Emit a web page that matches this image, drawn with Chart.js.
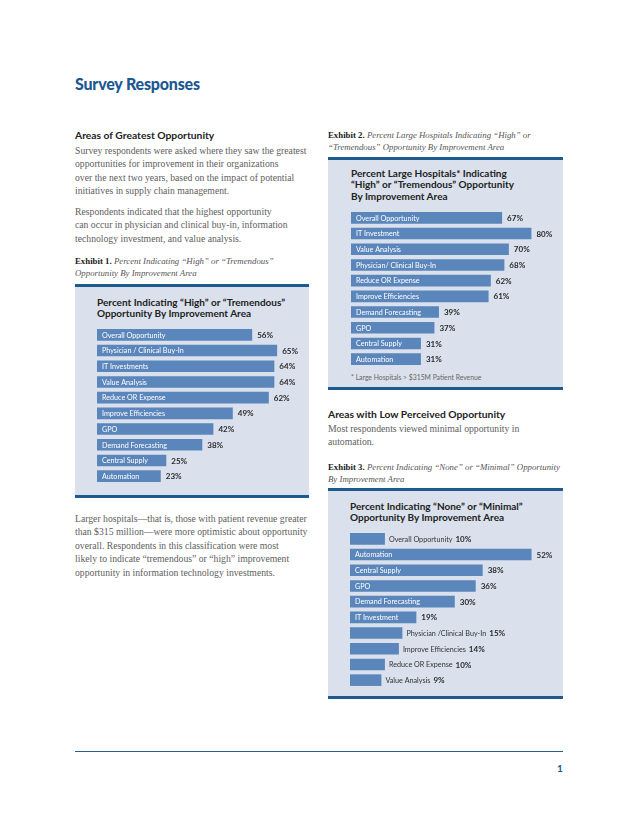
<!DOCTYPE html>
<html>
<head>
<meta charset="utf-8">
<script src="https://cdn.jsdelivr.net/npm/chart.js@4.4.1/dist/chart.umd.min.js"></script>
<style>
  html, body { margin: 0; padding: 0; background: #fff; }
  body { width: 638px; height: 826px; position: relative; overflow: hidden; }
  .abs { position: absolute; white-space: nowrap; }
  .title { font-family: Lato, sans-serif; font-weight: 900; font-size: 16px; color: #1d5793; letter-spacing: -0.2px; }
  .head { font-family: Lato, sans-serif; font-weight: 700; font-size: 10.3px; color: #222; }
  .body { font-family: "Liberation Serif", serif; font-size: 9.7px; color: #5e5e5e; line-height: 13.4px; }
  .cap { font-family: "Liberation Serif", serif; font-size: 8.8px; color: #444; line-height: 11.5px; }
  .cap b { color: #222; }
  .cap i { color: #555; }
  .panel { position: absolute; background: #dae1ec; border-top: 3px solid #1d5a8e; border-bottom: 3px solid #1d5a8e; box-sizing: border-box; }
  .ptitle { font-family: Lato, sans-serif; font-weight: 700; font-size: 10px; color: #222; line-height: 11.3px; }
  .foot { font-family: Lato, sans-serif; font-size: 6.8px; color: #666; }
  canvas { position: absolute; }
</style>
</head>
<body>

<div class="abs title" style="left:75px; top:74px;">Survey Responses</div>

<!-- left column -->
<div class="abs head" style="left:75px; top:129px;">Areas of Greatest Opportunity</div>
<div class="abs body" style="left:75px; top:144px;">Survey respondents were asked where they saw the greatest<br>opportunities for improvement in their organizations<br>over the next two years, based on the impact of potential<br>initiatives in supply chain management.</div>
<div class="abs body" style="left:75px; top:205px;">Respondents indicated that the highest opportunity<br>can occur in physician and clinical buy-in, information<br>technology investment, and value analysis.</div>
<div class="abs cap" style="left:75px; top:256px;"><b>Exhibit 1.</b> <i>Percent Indicating “High” or “Tremendous”<br>Opportunity By Improvement Area</i></div>

<div class="panel" style="left:75px; top:284px; width:234px; height:214px;"></div>
<div class="abs ptitle" style="left:97px; top:297px;">Percent Indicating “High” or “Tremendous”<br>Opportunity By Improvement Area</div>
<canvas id="chart1" width="212" height="157" style="left:97px; top:327px;"></canvas>

<div class="abs body" style="left:75px; top:512px;">Larger hospitals—that is, those with patient revenue greater<br>than $315 million—were more optimistic about opportunity<br>overall. Respondents in this classification were most<br>likely to indicate “tremendous” or “high” improvement<br>opportunity in information technology investments.</div>

<!-- right column -->
<div class="abs cap" style="left:328px; top:130px;"><b>Exhibit 2.</b> <i>Percent Large Hospitals Indicating “High” or<br>“Tremendous” Opportunity By Improvement Area</i></div>

<div class="panel" style="left:328px; top:157px; width:235px; height:233px;"></div>
<div class="abs ptitle" style="left:351px; top:168px;">Percent Large Hospitals* Indicating<br>“High” or “Tremendous” Opportunity<br>By Improvement Area</div>
<canvas id="chart2" width="212" height="157" style="left:351px; top:210px;"></canvas>
<div class="abs foot" style="left:351px; top:373px;">* Large Hospitals &gt; $315M Patient Revenue</div>

<div class="abs head" style="left:328px; top:408px;">Areas with Low Perceived Opportunity</div>
<div class="abs body" style="left:328px; top:422px;">Most respondents viewed minimal opportunity in<br>automation.</div>
<div class="abs cap" style="left:328px; top:462px;"><b>Exhibit 3.</b> <i>Percent Indicating “None” or “Minimal” Opportunity<br>By Improvement Area</i></div>

<div class="panel" style="left:328px; top:488px; width:235px; height:211px;"></div>
<div class="abs ptitle" style="left:350px; top:501px;">Percent Indicating “None” or “Minimal”<br>Opportunity By Improvement Area</div>
<canvas id="chart3" width="213" height="157" style="left:350px; top:531px;"></canvas>

<!-- footer -->
<div class="abs" style="left:75px; top:751px; width:488px; height:0; border-top:1.5px solid #2a5f93;"></div>
<div class="abs" style="left:557px; top:762px; font-family:Lato, sans-serif; font-weight:700; font-size:10px; color:#1d5793;">1</div>

<script>
// Exhibit 1 - all respondents, "High" or "Tremendous"
const areas1 = ["Overall Opportunity", "Physician / Clinical Buy-In", "IT Investments", "Value Analysis",
    "Reduce OR Expense", "Improve Efficiencies", "GPO", "Demand Forecasting", "Central Supply", "Automation"];
const values1 = [56, 65, 64, 64, 62, 49, 42, 38, 25, 23];

// Exhibit 2 - large hospitals, "High" or "Tremendous"
const areas2 = ["Overall Opportunity", "IT Investment", "Value Analysis", "Physician/ Clinical Buy-In",
    "Reduce OR Expense", "Improve Efficiencies", "Demand Forecasting", "GPO", "Central Supply", "Automation"];
const values2 = [67, 80, 70, 68, 62, 61, 39, 37, 31, 31];

// Exhibit 3 - "None" or "Minimal"
const areas3 = ["Overall Opportunity", "Automation", "Central Supply", "GPO", "Demand Forecasting",
    "IT Investment", "Physician /Clinical Buy-In", "Improve Efficiencies", "Reduce OR Expense", "Value Analysis"];
const values3 = [10, 52, 38, 36, 30, 19, 15, 14, 10, 9];

const BAR_COLOR = "#5a86bc";
const NAME_FONT = "7.2px Lato, sans-serif";
const VALUE_FONT = "bold 8px Lato, sans-serif";

// ✅ Writes the area name inside the bar (or after it when it does not fit) and the percent after the bar
const barLabelPlugin = {
    id: "barLabels",
    afterDatasetsDraw(chart) {
        const ctx = chart.ctx;
        const meta = chart.getDatasetMeta(0);
        meta.data.forEach((bar, i) => {
            const name = chart.data.labels[i];
            const value = chart.data.datasets[0].data[i] + "%";
            ctx.save();
            ctx.textBaseline = "middle";
            ctx.font = NAME_FONT;
            const nameWidth = ctx.measureText(name).width;
            const barWidth = bar.x - bar.base;
            if (nameWidth + 10 < barWidth) {
                ctx.fillStyle = "#ffffff";
                ctx.fillText(name, bar.base + 5, bar.y + 0.5);
                ctx.font = VALUE_FONT;
                ctx.fillStyle = "#2a2a2a";
                ctx.fillText(value, bar.x + 5, bar.y + 0.5);
            } else {
                ctx.fillStyle = "#333333";
                ctx.fillText(name, bar.x + 4, bar.y + 0.5);
                ctx.font = VALUE_FONT;
                ctx.fillStyle = "#2a2a2a";
                ctx.fillText(value, bar.x + 4 + nameWidth + 3, bar.y + 0.5);
            }
            ctx.restore();
        });
    }
};

function makeChart(id, areas, values, xMax) {
    const canvas = document.getElementById(id);
    if (!canvas) {
        console.error("❌ Canvas not found:", id);
        return;
    }
    new Chart(canvas, {
        type: "bar",
        data: {
            labels: areas,
            datasets: [{
                data: values,
                backgroundColor: BAR_COLOR,
                borderWidth: 0,
                barPercentage: 0.74,
                categoryPercentage: 1
            }]
        },
        options: {
            indexAxis: "y",
            responsive: false,
            animation: false,
            layout: { padding: 0 },
            plugins: { legend: { display: false }, tooltip: { enabled: false } },
            scales: {
                x: { display: false, min: 0, max: xMax },
                y: { display: false }
            }
        },
        plugins: [barLabelPlugin]
    });
}

makeChart("chart1", areas1, values1, 76.5);
makeChart("chart2", areas2, values2, 94);
makeChart("chart3", areas3, values3, 61);
</script>
</body>
</html>
